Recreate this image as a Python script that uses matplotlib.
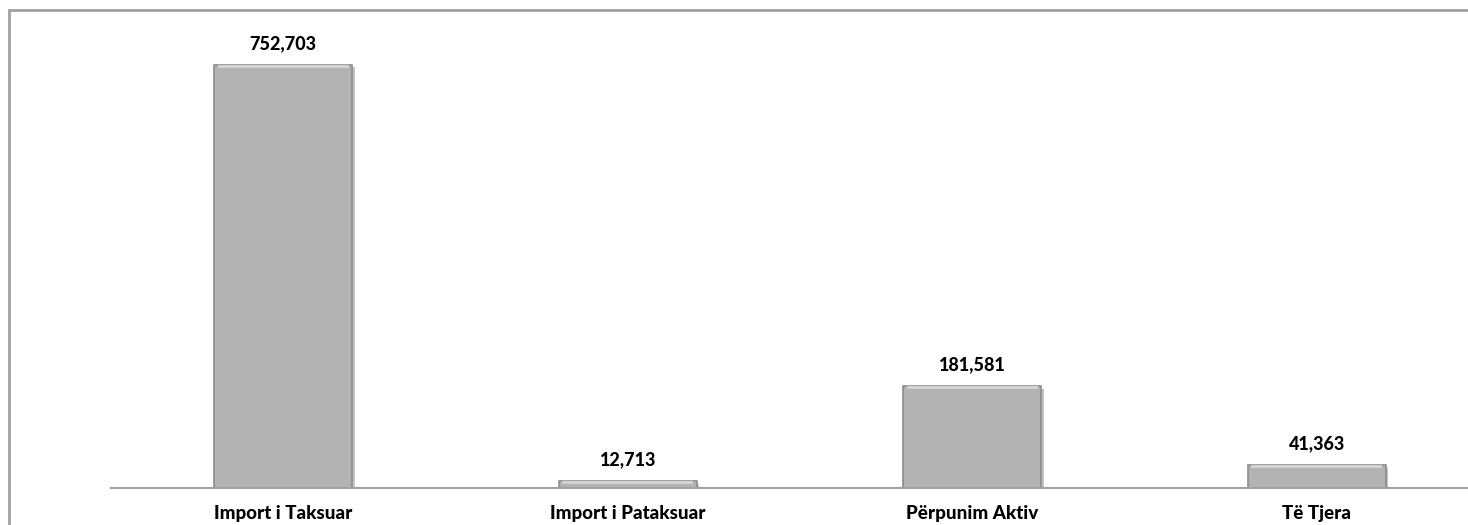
import matplotlib
matplotlib.use('Agg')
import matplotlib.pyplot as plt
from matplotlib.patches import Rectangle
import matplotlib.patheffects as pe

categories = ['Import i Taksuar', 'Import i Pataksuar', 'Përpunim Aktiv', 'Të Tjera']
values = [752703, 12713, 181581, 41363]

plt.rcParams['font.family'] = ['Lato', 'DejaVu Sans']

W, H = 1468, 525
fig = plt.figure(figsize=(W / 100, H / 100), dpi=100)
# axes runs past the right edge like the original (clipped chart)
ax = fig.add_axes([111 / W, 37 / H, 1378 / W, 478 / H])

x = range(len(categories))
bars = ax.bar(x, values, width=0.4, color='#b3b3b3', edgecolor='#8c8c8c', linewidth=1.2,
              path_effects=[pe.SimplePatchShadow(offset=(2, -2), shadow_rgbFace='#9a9a9a', alpha=0.6),
                            pe.Normal()])
# light bevel on top of each bar
ax.bar(x, [5000] * len(values), bottom=[v - 5500 for v in values], width=0.38,
       color='#d2d2d2', edgecolor='none')

for xi, v in zip(x, values):
    ax.annotate(f'{v:,}', (xi, v), xytext=(0, 9), textcoords='offset points',
                ha='center', va='bottom', fontsize=13, fontweight='black', color='black')

ax.set_xlim(-0.5, len(categories) - 0.5)
ax.set_ylim(0, 850000)
ax.set_xticks(list(x))
ax.set_xticklabels(categories, fontsize=13.5, fontweight='black')
ax.tick_params(axis='x', length=0, pad=12)
ax.set_yticks([])
for s in ['top', 'right', 'left']:
    ax.spines[s].set_visible(False)
ax.spines['bottom'].set_color('#a0a0a0')
ax.spines['bottom'].set_linewidth(1.5)

# outer chart border (right and bottom edges fall outside the image)
fig.patches.append(Rectangle((9 / W, -0.2), 2, (H - 10) / H + 0.2, transform=fig.transFigure,
                             fill=False, edgecolor='#a0a0a0', linewidth=2))

fig.savefig('out.png', dpi=100)
